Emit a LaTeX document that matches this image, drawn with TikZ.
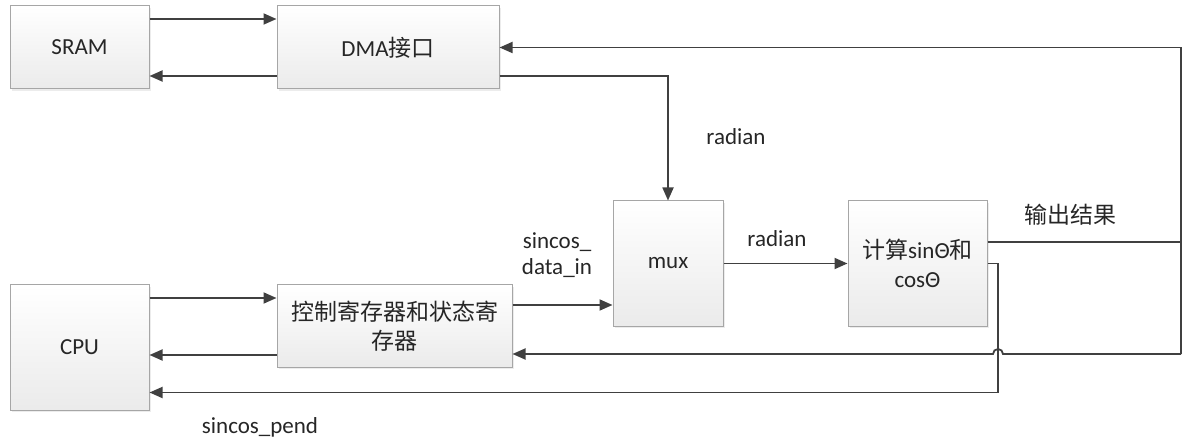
\documentclass[tikz,border=0pt]{standalone}
\usepackage{fontspec}
\setmainfont{Carlito}
\newfontfamily\cjk{Noto Sans CJK SC}
\usetikzlibrary{arrows.meta,shadows}
\definecolor{linegray}{HTML}{404040}
\definecolor{boxedge}{HTML}{A6A6A6}
\definecolor{txtgray}{HTML}{262626}

\begin{document}
\begin{tikzpicture}[line cap=butt,line join=miter,x=1pt,y=-1pt,
    font=\fontsize{23}{29}\selectfont, text=txtgray,
    blk/.style={draw=boxedge, line width=1pt, top color=white, bottom color=gray!16,
        drop shadow={shadow xshift=2pt, shadow yshift=-2pt, fill=gray!25, opacity=0.6},
        align=center, inner sep=0pt},
    wire/.style={draw=linegray, line width=1.8pt},
    arr/.style={wire, -{Triangle[length=13pt,width=11pt]}}]

    \useasboundingbox (0,0) rectangle (1183,438);

    \node[blk, minimum width=139pt, minimum height=83pt] (SRAM) at (79.5,47.5) {SRAM};
    \node[blk, minimum width=222pt, minimum height=83pt] (DMA) at (388,47.5) {DMA{\cjk 接口}};
    \node[blk, minimum width=139pt, minimum height=125pt] (CPU) at (79.5,347.5) {CPU};
    \node[blk, minimum width=235pt, minimum height=82pt] (CTRL) at (394.5,326) {{\cjk 控制寄存器和状态寄}\\{\cjk 存器}};
    \node[blk, minimum width=110pt, minimum height=125pt] (MUX) at (668,263.5) {mux};
    \node[blk, minimum width=139pt, minimum height=125pt] (CALC) at (917.5,263.5) {{\cjk 计算}sinΘ{\cjk 和}\\cosΘ};

    \coordinate (R) at (1181,242);
    \coordinate (Rtop) at (1181,47.5);
    \coordinate (Rbot) at (1181,354);
    \coordinate (J) at (998,263.5);

    % SRAM <-> DMA
    \draw[arr] (SRAM.east |- 0,19) -- (DMA.west |- 0,19);
    \draw[arr] (DMA.west |- 0,76) -- (SRAM.east |- 0,76);
    \draw[arr] (DMA.east |- 0,76) -| (MUX.north);
    % CPU <-> registers
    \draw[arr] (CPU.east |- 0,298) -- (CTRL.west |- 0,298);
    \draw[arr] (CTRL.west |- 0,355) -- (CPU.east |- 0,355);
    \draw[arr] (CTRL.east |- 0,305) -- (MUX.west |- 0,305);
    \draw[arr] (MUX) -- (CALC);
    % result loop
    \draw[wire] (CALC.east |- R) -- (R);
    \draw[wire] (Rtop) -- (Rbot);
    \draw[arr] (Rtop) -- (DMA.east);
    \draw[arr] (Rbot) -- (1003,354) arc[start angle=0, end angle=-180, radius=5] -- (CTRL.east |- Rbot);
    % sincos_pend
    \draw[arr] (CALC.east |- J) -- (J) -- (998,392.5) -- (CPU.east |- 0,392.5);

    \node (radianA) at (736,137) {radian};
    \node (radianB) at (777,239) {radian};
    \node[align=center, font=\fontsize{23}{26}\selectfont] (datain) at (557,255) {sincos\_\\data\_in};
    \node (result) at (1070,215) {\cjk 输出结果};
    \node (pend) at (260,427) {sincos\_pend};
\end{tikzpicture}
\end{document}
